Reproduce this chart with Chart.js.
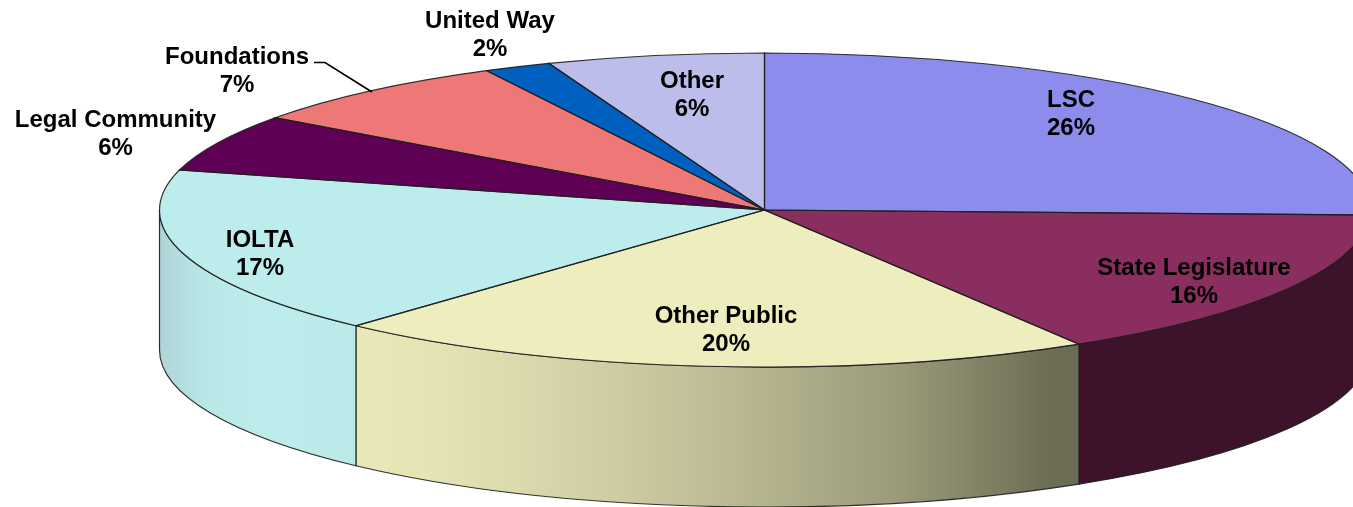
<!DOCTYPE html>
<html>
<head>
<meta charset="utf-8">
<title>Funding sources</title>
<style>
    html, body { margin: 0; padding: 0; background: #fff; overflow: hidden; }
    canvas { display: block; }
</style>
<script src="https://cdn.jsdelivr.net/npm/chart.js@4/dist/chart.umd.min.js"></script>
</head>
<body>
<canvas id="pie" width="1353" height="507"></canvas>
<script>
"use strict";

const categories = ["LSC", "State Legislature", "Other Public", "IOLTA", "Legal Community", "Foundations", "United Way", "Other"];
// slice sizes, printed labels are the rounded ones below
const sliceValues = [25.5, 15.8, 20.5, 17.3, 5.9, 7.4, 1.8, 5.8];
const percentLabels = ["26%", "16%", "20%", "17%", "6%", "7%", "2%", "6%"];

const topColors = ["#8c8cec", "#8a2d5f", "#eeedbe", "#bcecec", "#5e0054", "#ee7777", "#0060bf", "#bdbdec"];
// side wall shading: [offset, colour] left to right
const wallShades = [
    [[0, "#6a6ab0"], [1, "#6a6ab0"]],
    [[0, "#3c132b"], [1, "#3c132b"]],
    [[0, "#e9e8b9"], [0.1, "#e5e4b5"], [0.25, "#d9d8ac"], [0.5, "#bdbc95"], [0.75, "#9b9b7a"], [0.95, "#6e6f56"], [1, "#696b52"]],
    [[0, "#aed5d7"], [0.25, "#bae8e9"], [0.5, "#bdecec"], [1, "#bbeaea"]],
    [[0, "#5e0054"], [1, "#5e0054"]],
    [[0, "#ee7777"], [1, "#ee7777"]],
    [[0, "#0060bf"], [1, "#0060bf"]],
    [[0, "#bdbdec"], [1, "#bdbdec"]],
];

// label centres, first line
const labelX = [1071, 1194, 726, 260, 115.5, 237, 490, 692];
const labelY = [100, 268, 316, 240, 120, 57, 21, 81];
const labelLineGap = 28;

// ellipse of the tilted pie
const pieX = 764.5;
const pieY = 210;
const pieRx = 605;
const pieRy = 157;
const pieDepth = 140;

const outlineColor = "rgba(30, 30, 30, 0.9)";

function applyTilt(ctx, arc) {
    ctx.translate(pieX, pieY);
    ctx.scale(pieRx / arc.outerRadius, pieRy / arc.outerRadius);
    ctx.translate(-arc.x, -arc.y);
}

function drawWalls(ctx, arcs) {
    arcs.forEach((arc, i) => {
        const from = Math.max(arc.startAngle, 0);
        const to = Math.min(arc.endAngle, Math.PI);
        if (to <= from) return;

        const xRight = pieX + pieRx * Math.cos(from);
        const xLeft = pieX + pieRx * Math.cos(to);
        const grad = ctx.createLinearGradient(xLeft, 0, xRight, 0);
        wallShades[i].forEach(([offset, color]) => grad.addColorStop(offset, color));

        ctx.beginPath();
        ctx.ellipse(pieX, pieY, pieRx, pieRy, 0, from, to);
        ctx.ellipse(pieX, pieY + pieDepth, pieRx, pieRy, 0, to, from, true);
        ctx.closePath();
        ctx.fillStyle = grad;
        ctx.fill();
        ctx.lineWidth = 1.2;
        ctx.strokeStyle = outlineColor;
        ctx.stroke();
    });
}

function drawOutlines(ctx, arcs) {
    arcs.forEach((arc) => {
        ctx.save();
        applyTilt(ctx, arc);
        ctx.beginPath();
        ctx.moveTo(arc.x, arc.y);
        ctx.arc(arc.x, arc.y, arc.outerRadius, arc.startAngle, arc.endAngle);
        ctx.closePath();
        ctx.restore();
        ctx.lineWidth = 1.2;
        ctx.strokeStyle = outlineColor;
        ctx.stroke();
    });
}

function drawLabels(ctx) {
    ctx.fillStyle = "#000";
    ctx.font = "bold 24px 'Liberation Sans', Arial, sans-serif";
    ctx.textAlign = "center";
    ctx.textBaseline = "middle";
    categories.forEach((name, i) => {
        ctx.fillText(name, labelX[i], labelY[i]);
        ctx.fillText(percentLabels[i], labelX[i], labelY[i] + labelLineGap);
    });

    // leader line of Foundations
    ctx.beginPath();
    ctx.moveTo(314, 62.5);
    ctx.lineTo(325, 62.5);
    ctx.lineTo(372, 92);
    ctx.lineWidth = 1.6;
    ctx.strokeStyle = "#000";
    ctx.stroke();
}

const tiltedPie = {
    id: "tiltedPie",
    beforeDatasetsDraw(chart) {
        const ctx = chart.ctx;
        const arcs = chart.getDatasetMeta(0).data;
        drawWalls(ctx, arcs);
        ctx.save();
        applyTilt(ctx, arcs[0]);
    },
    afterDatasetsDraw(chart) {
        const ctx = chart.ctx;
        ctx.restore();
        drawOutlines(ctx, chart.getDatasetMeta(0).data);
        drawLabels(ctx);
    },
};

new Chart(document.getElementById("pie"), {
    type: "pie",
    data: {
        labels: categories,
        datasets: [
            {
                data: sliceValues,
                backgroundColor: topColors,
                borderWidth: 0,
                clip: false,
            },
        ],
    },
    options: {
        responsive: false,
        animation: false,
        plugins: {
            legend: { display: false },
            tooltip: { enabled: false },
        },
    },
    plugins: [tiltedPie],
});
</script>
</body>
</html>
